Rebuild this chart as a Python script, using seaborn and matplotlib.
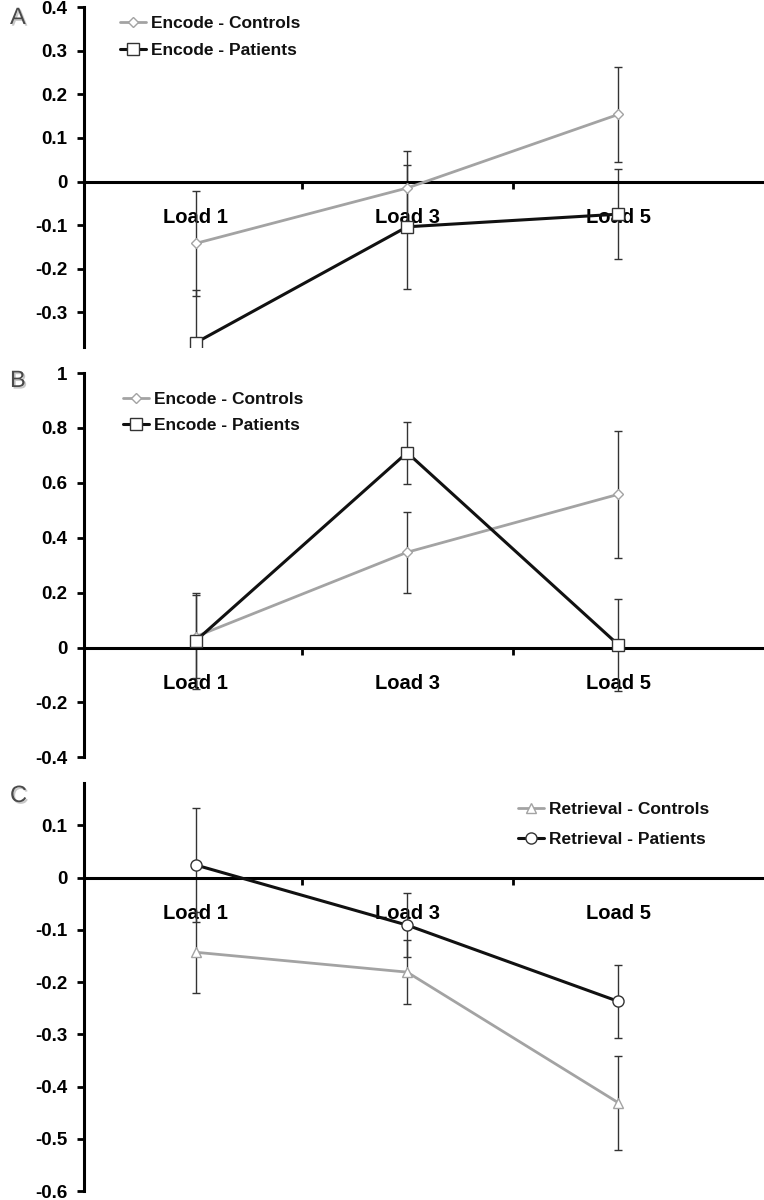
import numpy as np
import pandas as pd
import seaborn as sns
import matplotlib.pyplot as plt
import matplotlib.patheffects as pe
from matplotlib.lines import Line2D

sns.set_theme(style="white")
plt.rcParams['font.family'] = ['Liberation Sans', 'DejaVu Sans']
plt.rcParams['font.weight'] = 'bold'
plt.rcParams['text.color'] = 'black'
plt.rcParams['xtick.color'] = 'black'
plt.rcParams['ytick.color'] = 'black'

# categories
loads = ["Load 1", "Load 3", "Load 5"]

# panel A - encode
enc_ctrl_a = [-0.142, -0.015, 0.154]
enc_ctrl_a_err = [0.120, 0.086, 0.109]
enc_pat_a = [-0.370, -0.104, -0.075]
enc_pat_a_err = [0.120, 0.142, 0.103]

# panel B - encode
enc_ctrl_b = [0.040, 0.347, 0.558]
enc_ctrl_b_err = [0.150, 0.148, 0.232]
enc_pat_b = [0.025, 0.710, 0.010]
enc_pat_b_err = [0.175, 0.113, 0.168]

# panel C - retrieval
ret_ctrl_c = [-0.143, -0.181, -0.431]
ret_ctrl_c_err = [0.078, 0.061, 0.090]
ret_pat_c = [0.024, -0.091, -0.237]
ret_pat_c_err = [0.109, 0.061, 0.070]

y_ticks_a = [-0.3, -0.2, -0.1, 0, 0.1, 0.2, 0.3, 0.4]
y_ticks_b = [-0.4, -0.2, 0, 0.2, 0.4, 0.6, 0.8, 1]
y_ticks_c = [-0.6, -0.5, -0.4, -0.3, -0.2, -0.1, 0, 0.1]

GRAY = "#a3a3a3"
BLACK = "#111111"
ERR = "#333333"

W, H = 764, 1200
fig = plt.figure(figsize=(W / 100, H / 100), dpi=100)


def make_axes(top_px, bottom_px):
    left = 84 / W
    return fig.add_axes([left, 1 - bottom_px / H, 1 - left, (bottom_px - top_px) / H])


def fmt(v):
    if v == 0:
        return "0"
    if float(v).is_integer():
        return str(int(v))
    return f"{v:g}"


def draw_panel(ax, series, ylim, yticks, letter, legend_xy, labelspacing):
    x = np.arange(len(loads))
    handles = []
    for label, vals, errs, color, marker, ms, lw in series:
        edge = color if color != BLACK else "#333333"
        ax.errorbar(x, vals, yerr=errs, fmt="none", ecolor=ERR, elinewidth=1.0,
                    capsize=3, capthick=1.0, zorder=2)
        df = pd.DataFrame({"load": x, "value": vals})
        sns.lineplot(data=df, x="load", y="value", ax=ax, color=color, lw=lw,
                     marker=marker, markersize=ms, markerfacecolor="white",
                     markeredgecolor=edge, markeredgewidth=1.0, zorder=3)
        handles.append(Line2D([], [], color=color, lw=lw, marker=marker, markersize=ms,
                              markerfacecolor="white", markeredgecolor=edge,
                              markeredgewidth=1.0, label=label))

    ax.set_xlim(-0.53, 2.69)
    ax.set_ylim(*ylim)
    ax.set_xlabel("")
    ax.set_ylabel("")

    for s in ["top", "right"]:
        ax.spines[s].set_visible(False)
    ax.spines["left"].set_linewidth(2.2)
    ax.spines["left"].set_color("black")
    ax.spines["bottom"].set_position(("data", 0))
    ax.spines["bottom"].set_linewidth(2.2)
    ax.spines["bottom"].set_color("black")

    ax.set_yticks(yticks)
    ax.set_yticklabels([fmt(v) for v in yticks], fontsize=13.5, fontweight="bold")
    ax.tick_params(axis="y", direction="out", length=5, width=2, pad=7, left=True)

    ax.set_xticks(x)
    ax.set_xticklabels(loads, fontsize=14.5, fontweight="bold")
    ax.tick_params(axis="x", which="major", length=0, pad=19, bottom=True)
    ax.set_xticks([0.5, 1.5], minor=True)
    ax.tick_params(axis="x", which="minor", direction="out", length=5, width=2, bottom=True)
    ax.grid(False)

    leg = ax.legend(handles=handles, loc="upper left", bbox_to_anchor=legend_xy,
                    frameon=False, fontsize=12.5, handlelength=1.5, handletextpad=0.3,
                    labelspacing=labelspacing, borderpad=0, borderaxespad=0)
    for t in leg.get_texts():
        t.set_fontweight("bold")
        t.set_color("#111111")

    fig.text(10 / W, 1 - (letter[1]) / H, letter[0], fontsize=17, color="#4a4a4a",
             fontweight="normal", va="center", ha="left",
             path_effects=[pe.withSimplePatchShadow(offset=(1.2, -1.2), shadow_rgbFace="#bbbbbb", alpha=0.8)])


ax_a = make_axes(7.3, 347)
draw_panel(ax_a,
           [("Encode - Controls", enc_ctrl_a, enc_ctrl_a_err, GRAY, "D", 5, 2.0),
            ("Encode - Patients", enc_pat_a, enc_pat_a_err, BLACK, "s", 8, 2.2)],
           (-0.38, 0.4), y_ticks_a, ("A", 18), (0.053, 0.975), 0.68)

ax_b = make_axes(373, 757.3)
draw_panel(ax_b,
           [("Encode - Controls", enc_ctrl_b, enc_ctrl_b_err, GRAY, "D", 5, 2.0),
            ("Encode - Patients", enc_pat_b, enc_pat_b_err, BLACK, "s", 8, 2.2)],
           (-0.4, 1.0), y_ticks_b, ("B", 381), (0.057, 0.95), 0.62)

ax_c = make_axes(783.3, 1191)
draw_panel(ax_c,
           [("Retrieval - Controls", ret_ctrl_c, ret_ctrl_c_err, GRAY, "^", 7, 2.0),
            ("Retrieval - Patients", ret_pat_c, ret_pat_c_err, BLACK, "o", 8, 2.2)],
           (-0.6, 0.1805), y_ticks_c, ("C", 796), (0.638, 0.955), 0.85)

fig.savefig("out.png", dpi=100)
